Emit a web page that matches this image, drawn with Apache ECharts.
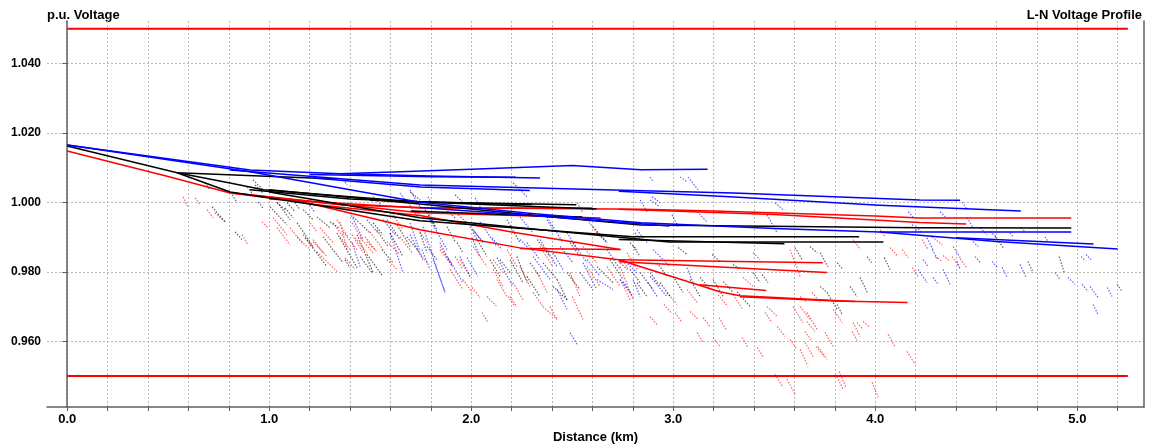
<!DOCTYPE html>
<html>
<head>
<meta charset="utf-8">
<script src="https://cdn.jsdelivr.net/npm/echarts@6/dist/echarts.min.js"></script>
<style>
  html, body { margin: 0; padding: 0; background: #fff; }
  #chart { width: 1153px; height: 445px; }
</style>
</head>
<body>
<div id="chart"></div>
<script>
// Voltage limits (p.u.) and the span they are drawn over (km)
const limitHigh = 1.05;
const limitLow = 0.95;
const limitSpan = [0, 5.25];

// Axis ranges and tick positions
const xRange = [-0.1, 5.33];
const yRange = [0.9411, 1.0522];
const xGridTicks = [0, 0.2, 0.4, 0.6, 0.8, 1.0, 1.2, 1.4, 1.6, 1.8, 2.0, 2.2, 2.4, 2.6, 2.8,
                    3.0, 3.2, 3.4, 3.6, 3.8, 4.0, 4.2, 4.4, 4.6, 4.8, 5.0, 5.2];
const xLabelTicks = [0, 1, 2, 3, 4, 5];
const yTicks = [0.96, 0.98, 1.00, 1.02, 1.04];

// Three-phase primary runs, [distance km, voltage p.u.] per vertex
const bluePrimary = [
  [[0,1.0165],[0.905,1.0093],[1.35,1.0082],[1.65,1.0088],[2.0,1.0095],[2.5,1.0106],[2.84,1.0094],[3.17,1.0095]],
  [[1.35,1.0082],[1.8,1.0076],[2.34,1.0070]],
  [[1.2,1.0080],[1.8,1.0074],[2.22,1.0072]],
  [[0.806,1.0093],[1.746,1.0050],[2.8,1.0034],[3.3,1.0027],[4.22,1.0007],[4.42,1.0006]],
  [[1.22,1.0070],[1.75,1.0044],[2.29,1.0034]],
  [[2.73,1.0032],[3.28,1.0016],[4.02,0.9992],[4.72,0.9975]],
  [[0,1.0165],[0.905,1.0088],[1.40,1.0036],[1.746,1.0000],[2.3,0.9968],[2.84,0.9941],[3.5,0.9925],[4.02,0.9915],[4.97,0.9915]],
  [[4.02,0.9915],[4.6,0.9887],[5.2,0.9866]],
  [[4.4,0.9898],[5.08,0.9880]],
  [[1.746,0.9985],[2.3,0.9962],[2.98,0.9932]]
];
const blackPrimary = [
  [[0,1.0162],[0.544,1.0085],[1.336,1.0067]],
  [[0.544,1.0085],[0.806,1.0056],[0.97,1.0036],[1.40,1.0016],[1.746,1.0001],[2.52,0.9993]],
  [[0.905,1.0036],[1.40,1.0010],[2.0,0.9995],[2.62,0.9981]],
  [[1.0,1.0036],[1.746,0.9995],[2.4,0.9958],[2.84,0.9935],[4.22,0.9927],[4.97,0.9926]],
  [[1.0,1.0030],[1.746,0.9956],[2.24,0.9927],[2.98,0.9886],[4.04,0.9886]],
  [[0.544,1.0085],[0.806,1.0030],[1.746,0.9947],[2.80,0.9901],[3.92,0.9901]],
  [[2.73,0.9893],[3.55,0.9881]],
  [[1.5,1.0006],[2.1,0.9996],[2.3,0.9994]],
  [[1.7,0.9975],[2.3,0.9962],[2.55,0.9958]]
];
const redPrimary = [
  [[0,1.0148],[0.509,1.0073],[0.806,1.0027],[1.17,1.0001],[1.746,0.9921],[2.24,0.9869],[2.73,0.9835],[3.0,0.9785],[3.23,0.9743],[3.33,0.9731],[3.9,0.9715]],
  [[3.33,0.9728],[3.8,0.9716],[4.16,0.9712]],
  [[2.73,0.9835],[3.74,0.9826]],
  [[2.73,0.9829],[3.76,0.9798]],
  [[3.13,0.9763],[3.46,0.9746]],
  [[2.24,0.9867],[2.74,0.9864]],
  [[0.82,1.0027],[1.35,0.9993],[1.746,0.9985],[2.84,0.9980],[3.2,0.9975],[4.0,0.9961],[4.22,0.9955],[4.97,0.9955]],
  [[2.73,0.9980],[3.5,0.9965],[4.22,0.9942],[4.45,0.9938]],
  [[1.0,1.0010],[1.746,0.9984],[2.6,0.9984]],
  [[0.82,1.0027],[1.746,0.9970],[2.64,0.9955]],
  [[1.2,0.9995],[1.746,0.9962],[2.2,0.9915],[2.737,0.9864]]
];

// Single-phase secondaries: [x0, v0, x1, v1]
const redSecondary = [
  [0.574,1.0016,0.598,0.9985],[0.633,1.0013,0.657,0.9993],[0.692,0.9979,0.722,0.9956],[0.865,0.9907,0.895,0.9878],
  [0.964,0.9944,0.994,0.9927],[1.019,0.9956,1.088,0.9907],[1.103,0.9927,1.168,0.9878],[1.168,0.9907,1.217,0.9870],
  [1.217,0.9893,1.267,0.9855],[1.251,0.9927,1.316,0.9884],[1.236,0.9858,1.335,0.9801],[1.335,0.9950,1.390,0.9901],
  [1.350,0.9901,1.400,0.9864],[1.35,0.9944,1.385,0.9864],[1.41,0.9941,1.46,0.9893],[1.425,0.9898,1.484,0.9855],
  [1.474,0.9901,1.524,0.9864],[1.583,0.9835,1.633,0.9807],[1.613,0.9964,1.662,0.9921],[1.647,0.9901,1.707,0.9855],
  [1.732,0.9864,1.781,0.9826],[1.845,0.9864,1.895,0.9826],[1.920,0.9844,1.959,0.9807],[1.959,0.9778,2.004,0.9741],
  [2.004,0.9755,2.043,0.9726],[2.053,0.9683,2.083,0.9654],[2.108,0.9835,2.157,0.9798],[2.127,0.9778,2.177,0.9729],
  [2.207,0.9769,2.256,0.9720],[2.182,0.9729,2.217,0.9700],[2.306,0.9741,2.355,0.9700],[2.340,0.9873,2.405,0.9815],
  [2.390,0.9700,2.425,0.9663],[2.50,0.9729,2.553,0.9663],[2.573,0.9950,2.638,0.9901],[2.737,0.9778,2.786,0.9720],
  [2.752,0.9835,2.776,0.9807],[2.954,0.9706,2.989,0.9683],[2.885,0.9671,2.920,0.9648],[2.969,0.9741,3.019,0.9706],
  [3.009,0.9683,3.043,0.9654],[3.068,0.9749,3.118,0.9712],[3.083,0.9686,3.123,0.9663],[3.148,0.9668,3.182,0.9642],
  [3.118,0.9625,3.148,0.9596],[3.222,0.9734,3.271,0.9700],[3.227,0.9668,3.261,0.9634],[3.197,0.9611,3.232,0.9585],
  [3.296,0.9734,3.345,0.9691],[3.341,0.9611,3.370,0.9582],[3.345,0.9784,3.395,0.9758],[3.395,0.9855,3.430,0.9835],
  [3.454,0.9683,3.489,0.9654],[3.415,0.9582,3.444,0.9556],[3.464,0.9700,3.514,0.9672],[3.504,0.9505,3.543,0.9468],
  [3.563,0.9491,3.603,0.9448],[3.514,0.9643,3.553,0.9614],[3.578,0.9864,3.628,0.9787],[3.578,0.9605,3.613,0.9577],
  [3.593,0.9700,3.642,0.9654],[3.628,0.9729,3.662,0.9712],[3.662,0.9683,3.712,0.9634],[3.652,0.9597,3.692,0.9556],
  [3.687,0.9741,3.727,0.9712],[3.717,0.9585,3.761,0.9548],[3.791,0.9692,3.836,0.9654],[3.811,0.9499,3.840,0.9462],
  [3.890,0.9654,3.925,0.9614],[3.940,0.9657,3.974,0.9640],[3.984,0.9482,4.014,0.9439],[4.063,0.9620,4.098,0.9585],
  [4.073,0.9870,4.113,0.9844],[4.133,0.9864,4.162,0.9841],[4.157,0.9571,4.197,0.9533],[3.890,0.9893,3.925,0.9864],
  [3.628,0.9700,3.677,0.9663],[3.662,0.9657,3.702,0.9628],[3.652,0.9628,3.687,0.9600],[3.628,0.9577,3.667,0.9528],
  [3.707,0.9585,3.747,0.9556],[3.751,0.9626,3.791,0.9585],[3.821,0.9513,3.855,0.9467],[3.885,0.9628,3.915,0.9597],
  [3.910,0.9654,3.940,0.9634],[4.182,0.9812,4.212,0.9786],[4.232,0.9893,4.261,0.9864],[4.281,0.9901,4.331,0.9878],
  [4.296,0.9844,4.331,0.9830],[4.380,0.9844,4.415,0.9815],[4.420,0.9838,4.454,0.9810],[4.024,0.9921,4.049,0.9901],
  [4.336,0.9847,4.370,0.9830],
  [0.731,0.9970,0.781,0.9944],[1.039,0.9927,1.103,0.9878],[1.138,0.9901,1.202,0.9864],[1.202,0.9941,1.236,0.9915],
  [1.217,0.9887,1.286,0.9844],[1.316,0.9941,1.366,0.9901],[1.366,0.9915,1.435,0.9864],[1.375,0.9841,1.425,0.9807],
  [1.45,0.9898,1.514,0.9855],[1.41,0.9907,1.465,0.9855],[1.484,0.9887,1.533,0.9858],[1.499,0.9915,1.563,0.9864],
  [1.583,0.9887,1.647,0.9850],[1.845,0.9873,1.910,0.9815],[1.895,0.9807,1.959,0.9749],[1.944,0.9835,1.994,0.9787],
  [2.009,0.9873,2.078,0.9815],[2.078,0.9729,2.127,0.9700],[2.108,0.9807,2.157,0.9758],[2.177,0.9864,2.226,0.9815],
  [2.192,0.9729,2.226,0.9700],[2.241,0.9815,2.291,0.9758],[2.326,0.9798,2.375,0.9741],[2.355,0.9700,2.425,0.9663],
  [2.489,0.9798,2.538,0.9729],[2.553,0.9873,2.622,0.9826],[2.573,0.9815,2.638,0.9758],[2.672,0.9815,2.737,0.9758],
  [2.737,0.9815,2.801,0.9720],[2.771,0.9855,2.820,0.9807],[1.746,0.9915,1.781,0.9884]
];
const blackSecondary = [
  [0.682,1.0056,0.707,1.0036],[0.717,0.9987,0.781,0.9944],[0.831,0.9915,0.865,0.9893],[0.816,1.0022,0.841,0.9999],
  [0.930,1.0050,0.969,1.0027],[0.890,1.0044,0.915,1.0027],[1.039,1.0001,1.103,0.9950],[1.088,0.9999,1.128,0.9973],
  [1.118,1.0007,1.152,0.9979],[1.138,0.9941,1.217,0.9873],[1.236,0.9958,1.301,0.9927],[1.266,0.9901,1.366,0.9826],
  [1.301,0.9944,1.350,0.9924],[1.375,0.9835,1.400,0.9812],[1.415,0.9958,1.499,0.9912],[1.450,0.9844,1.509,0.9798],
  [1.533,0.9921,1.588,0.9873],[1.558,0.9864,1.613,0.9826],[1.682,0.9901,1.732,0.9864],[1.771,0.9979,1.821,0.9930],
  [1.880,0.9930,1.920,0.9887],[2.009,0.9921,2.058,0.9884],[2.093,0.9835,2.142,0.9787],[2.177,0.9950,2.241,0.9884],
  [2.192,0.9835,2.256,0.9769],[2.276,0.9787,2.340,0.9729],[2.355,0.9826,2.425,0.9778],[2.405,0.9758,2.474,0.9720],
  [2.474,0.9798,2.538,0.9749],[2.622,0.9815,2.702,0.9769],[2.786,0.9884,2.820,0.9864],[2.801,0.9873,2.836,0.9844],
  [2.786,0.9807,2.836,0.9769],[2.836,0.9798,2.900,0.9749],[2.920,0.9826,2.969,0.9787],[2.935,0.9769,2.984,0.9729],
  [3.024,0.9870,3.068,0.9850],[2.999,0.9787,3.048,0.9741],[3.083,0.9778,3.133,0.9729],[3.133,0.9784,3.182,0.9749],
  [3.192,0.9850,3.232,0.9830],[3.197,0.9778,3.247,0.9729],[3.247,0.9772,3.296,0.9741],[3.296,0.9821,3.331,0.9807],
  [3.316,0.9743,3.380,0.9700],[3.395,0.9798,3.430,0.9769],[3.440,0.9792,3.469,0.9769],[3.603,0.9870,3.638,0.9835],
  [3.677,0.9873,3.712,0.9855],[3.727,0.9855,3.766,0.9815],[3.727,0.9758,3.761,0.9741],[3.761,0.9741,3.811,0.9692],
  [3.811,0.9826,3.840,0.9807],[3.875,0.9758,3.910,0.9729],[3.925,0.9784,3.960,0.9741],[3.960,0.9844,3.984,0.9824],
  [4.044,0.9841,4.073,0.9807],[3.811,0.9706,3.836,0.9677],[4.593,0.9901,4.633,0.9870],[4.756,0.9830,4.781,0.9798],
  [4.910,0.9844,4.935,0.9798],[1.697,1.0030,1.747,1.0007],[1.920,1.0022,1.955,1.0002],
  [0.920,1.0065,0.969,1.0036],[0.945,1.0001,0.969,0.9984],[1.004,0.9987,1.088,0.9936],[1.039,0.9999,1.078,0.9979],
  [1.078,0.9984,1.118,0.9956],[1.168,0.9979,1.217,0.9950],[1.178,0.9898,1.286,0.9815],[1.335,0.9912,1.435,0.9812],
  [1.435,0.9907,1.514,0.9798],[1.484,0.9850,1.563,0.9787],[1.514,0.9941,1.563,0.9907],[1.583,0.9950,1.647,0.9893],
  [1.598,0.9912,1.662,0.9844],[1.633,0.9935,1.697,0.9873],[1.746,0.9913,1.781,0.9855],[1.781,0.9873,1.830,0.9835],
  [1.930,0.9884,1.959,0.9855],[2.009,0.9913,2.078,0.9844],[2.142,0.9835,2.192,0.9798],[2.226,0.9844,2.276,0.9769],
  [2.291,0.9826,2.340,0.9786],[2.326,0.9893,2.390,0.9844],[2.425,0.9778,2.474,0.9720],[2.489,0.9884,2.538,0.9844],
  [2.538,0.9798,2.603,0.9749],[2.622,0.9913,2.672,0.9884],[2.687,0.9835,2.752,0.9778],[2.820,0.9769,2.870,0.9729],
  [2.885,0.9798,2.935,0.9758]
];
const blueSecondary = [
  [1.202,0.9993,1.222,0.9973],[1.484,0.9950,1.538,0.9912],[1.563,0.9950,1.623,0.9907],[1.598,0.9912,1.662,0.9798],
  [1.687,0.9999,1.737,0.9958],[1.697,0.9907,1.761,0.9835],[1.756,0.9864,1.796,0.9807],[1.786,1.0016,1.811,0.9987],
  [1.796,0.9950,1.880,0.9864],[1.811,0.9835,1.870,0.9743],[1.944,0.9844,1.994,0.9787],[2.004,0.9898,2.043,0.9844],
  [2.019,1.0013,2.058,0.9973],[2.043,0.9944,2.127,0.9873],[2.207,1.0056,2.276,1.0016],[2.241,0.9958,2.306,0.9912],
  [2.276,0.9884,2.340,0.9835],[2.375,0.9958,2.454,0.9884],[2.44,0.9873,2.504,0.9826],[2.489,0.9625,2.524,0.9591],
  [2.504,0.9884,2.573,0.9826],[2.573,0.9835,2.638,0.9787],[2.622,0.9778,2.702,0.9749],[2.672,0.9864,2.737,0.9807],
  [2.752,0.9835,2.820,0.9798],[2.801,0.9778,2.836,0.9729],[2.885,1.0073,2.900,1.0059],[3.034,1.0073,3.068,1.0059],
  [3.073,1.0073,3.123,1.0036],[2.895,1.0016,2.935,0.9999],[2.836,1.0007,2.870,0.9973],[2.994,0.9964,3.024,0.9930],
  [3.118,0.9973,3.167,0.9944],[2.811,0.9912,2.846,0.9887],[2.737,0.9826,2.772,0.9807],[2.752,0.9772,2.786,0.9741],
  [2.875,0.9769,2.920,0.9729],[3.068,0.9812,3.098,0.9769],[3.464,0.9964,3.514,0.9912],[3.504,0.9999,3.543,0.9979],
  [4.202,0.9930,4.227,0.9916],[4.163,0.9973,4.187,0.9958],[4.321,0.9973,4.346,0.9958],[4.430,1.0001,4.455,0.9979],
  [4.182,0.9936,4.207,0.9916],[4.212,0.9807,4.256,0.9769],[4.237,0.9835,4.261,0.9815],[4.256,0.9898,4.286,0.9864],
  [4.281,0.9864,4.311,0.9835],[4.286,0.9784,4.311,0.9764],[4.336,0.9807,4.370,0.9764],[4.385,0.9873,4.420,0.9841],
  [4.405,0.9830,4.420,0.9807],[4.454,0.9956,4.484,0.9927],[4.484,0.9887,4.509,0.9873],[4.494,0.9844,4.519,0.9827],
  [4.519,0.9927,4.553,0.9907],[4.568,0.9916,4.603,0.9898],[4.578,0.9830,4.603,0.9813],[4.628,0.9813,4.652,0.9784],
  [4.667,0.9913,4.682,0.9901],[4.717,0.9821,4.746,0.9784],[4.722,0.9927,4.741,0.9916],[4.840,0.9901,4.855,0.9887],
  [4.890,0.9798,4.915,0.9778],[4.954,0.9784,4.989,0.9764],[5.019,0.9844,5.034,0.9835],[5.043,0.9850,5.068,0.9835],
  [5.024,0.9764,5.053,0.9743],[5.063,0.9758,5.103,0.9726],[5.078,0.9706,5.103,0.9677],[5.148,0.9755,5.172,0.9729],
  [5.197,0.9764,5.222,0.9743],
  [1.366,1.0065,1.385,1.0050],[1.40,0.9970,1.465,0.9893],[1.410,0.9884,1.450,0.9815],[1.514,1.0016,1.563,0.9987],
  [1.647,1.0027,1.682,0.9999],[1.697,1.0036,1.746,0.9987],[1.697,0.9941,1.746,0.9858],[1.761,0.9930,1.870,0.9740],
  [1.786,0.9973,1.830,0.9921],[1.845,0.9884,1.905,0.9815],[1.860,0.9987,1.920,0.9955],[1.885,0.9841,1.959,0.9769],
  [1.935,0.9964,1.979,0.9941],[1.979,0.9841,2.033,0.9787],[1.994,0.9930,2.058,0.9887],[2.103,0.9898,2.152,0.9864],
  [2.127,0.9841,2.207,0.9758],[2.241,0.9893,2.291,0.9864],[2.306,0.9844,2.390,0.9778],[2.340,0.9893,2.425,0.9815],
  [2.375,0.9950,2.405,0.9921],[2.405,0.9855,2.454,0.9807],[2.425,0.9749,2.474,0.9692],[2.474,0.9913,2.524,0.9864],
  [2.524,0.9999,2.553,0.9970],[2.553,0.9826,2.622,0.9749],[2.603,0.9930,2.672,0.9884],[2.737,0.9778,2.801,0.9729],
  [2.820,0.9921,2.870,0.9884],[2.885,1.0007,2.935,0.9987],[2.885,0.9787,2.969,0.9729],[2.900,0.9864,2.984,0.9815]
];

const FONT = '"Liberation Sans", Arial, sans-serif';
const AXIS_GREY = '#5f5f5f';
const GRID_GREY = '#b9b9b9';

function primarySeries(runs, color, width) {
  return {
    type: 'lines', coordinateSystem: 'cartesian2d', polyline: true, silent: true,
    lineStyle: { color: color, width: width, opacity: 1 },
    data: runs.map(function (r) { return { coords: r }; })
  };
}
function secondarySeries(segs, color) {
  return {
    type: 'lines', coordinateSystem: 'cartesian2d', silent: true,
    lineStyle: { color: color, width: 1.2, type: [1.5, 1.5], opacity: 0.62 },
    data: segs.map(function (s) { return { coords: [[s[0], s[1]], [s[2], s[3]]] }; })
  };
}

const chart = echarts.init(document.getElementById('chart'), null, { renderer: 'canvas' });
chart.setOption({
  animation: false,
  backgroundColor: '#ffffff',
  grid: { left: 47, right: 9, top: 21, bottom: 38, containLabel: false, outerBoundsMode: 'none' },
  graphic: [
    { type: 'text', left: 47, top: 9,
      style: { text: 'p.u. Voltage', font: 'bold 13px ' + FONT, fill: '#000' } },
    { type: 'text', right: 11, top: 9,
      style: { text: 'L-N Voltage Profile', font: 'bold 13px ' + FONT, fill: '#000' } }
  ],
  xAxis: {
    type: 'value', min: xRange[0], max: xRange[1],
    name: 'Distance (km)', nameLocation: 'middle', nameGap: 19,
    nameTextStyle: { fontFamily: FONT, fontWeight: 'bold', fontSize: 13, color: '#000' },
    axisLine: { show: true, onZero: false, lineStyle: { color: AXIS_GREY, width: 1.5 } },
    axisTick: { show: true, length: 4, customValues: xGridTicks, lineStyle: { color: AXIS_GREY } },
    axisLabel: { customValues: xLabelTicks, margin: 6, fontFamily: FONT, fontWeight: 'bold', fontSize: 13, color: '#000',
                 formatter: function (v) { return v.toFixed(1); } },
    splitLine: { show: true, lineStyle: { color: GRID_GREY, width: 1, type: [2, 2] } }
  },
  yAxis: [
    {
      type: 'value', min: yRange[0], max: yRange[1],
      axisLine: { show: true, lineStyle: { color: AXIS_GREY, width: 1.5 } },
      axisTick: { show: true, length: 5, customValues: yTicks, lineStyle: { color: AXIS_GREY } },
      axisLabel: { customValues: yTicks, margin: 6, fontFamily: FONT, fontWeight: 'bold', fontSize: 12, color: '#000',
                   formatter: function (v) { return v.toFixed(3); } },
      splitLine: { show: true, lineStyle: { color: GRID_GREY, width: 1, type: [2, 2] } }
    },
    {
      type: 'value', position: 'right', min: yRange[0], max: yRange[1],
      axisLine: { show: true, lineStyle: { color: AXIS_GREY, width: 1.5 } },
      axisTick: { show: false }, axisLabel: { show: false }, splitLine: { show: false }
    }
  ],
  series: [
    secondarySeries(redSecondary, '#ff0000'),
    secondarySeries(blackSecondary, '#000000'),
    secondarySeries(blueSecondary, '#0000ff'),
    primarySeries(redPrimary, '#ff0000', 1.5),
    primarySeries(blackPrimary, '#000000', 1.5),
    primarySeries(bluePrimary, '#0000ff', 1.5),
    primarySeries([[[limitSpan[0], limitHigh], [limitSpan[1], limitHigh]],
                   [[limitSpan[0], limitLow], [limitSpan[1], limitLow]]], '#ff0000', 2)
  ]
});
</script>
</body>
</html>
